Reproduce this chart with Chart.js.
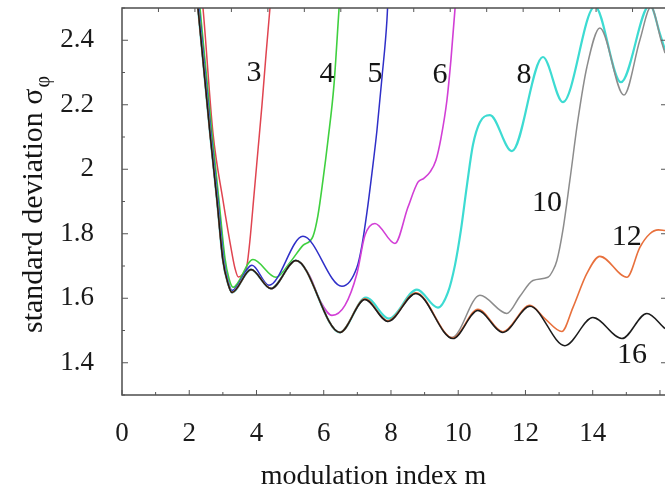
<!DOCTYPE html>
<html>
<head>
<meta charset="utf-8">
<script src="https://cdn.jsdelivr.net/npm/chart.js@4.4.1/dist/chart.umd.min.js"></script>
<style>
  html, body { margin: 0; padding: 0; background: #fff; overflow: hidden; }
  #wrap { width: 665px; height: 485px; }
</style>
</head>
<body>
<div id="wrap"><canvas id="myChart" width="665" height="485"></canvas></div>
<script>
  // modulation index m  /  standard deviation sigma_phi, one pair per curve
  let m16 = [2.21, 2.26, 2.617, 2.825, 3.003, 3.152, 3.271, 3.836, 4.43, 5.174, 6.482, 7.226, 7.91, 8.742, 9.842, 10.586, 11.329, 12.132, 13.173, 14.005, 14.868, 15.611, 16.15];
  let s16 = [2.55, 2.5, 2.112, 1.904, 1.717, 1.646, 1.618, 1.689, 1.630, 1.717, 1.494, 1.596, 1.528, 1.615, 1.475, 1.562, 1.494, 1.575, 1.453, 1.540, 1.475, 1.553, 1.506];

  let m3 = [2.36, 2.409, 2.706, 3.003, 3.271, 3.36, 3.458, 3.628, 3.717, 3.806, 3.925, 4.044, 4.163, 4.282, 4.401, 4.44];
  let s3 = [2.55, 2.5, 2.112, 1.904, 1.739, 1.693, 1.666, 1.680, 1.702, 1.780, 1.919, 2.059, 2.199, 2.354, 2.5, 2.55];

  let m4 = [2.27, 2.319, 2.676, 2.884, 3.063, 3.182, 3.301, 3.895, 4.579, 4.996, 5.382, 5.680, 5.828, 5.977, 6.126, 6.304, 6.453, 6.49];
  let s4 = [2.55, 2.5, 2.112, 1.904, 1.724, 1.661, 1.634, 1.720, 1.665, 1.711, 1.764, 1.792, 1.857, 1.966, 2.090, 2.261, 2.494, 2.55];

  let m5 = [2.24, 2.29, 2.646, 2.855, 3.033, 3.152, 3.271, 3.866, 4.371, 5.382, 6.542, 6.988, 7.137, 7.285, 7.434, 7.583, 7.731, 7.88, 7.92];
  let s5 = [2.55, 2.5, 2.112, 1.904, 1.717, 1.655, 1.624, 1.702, 1.640, 1.792, 1.637, 1.696, 1.764, 1.866, 1.988, 2.121, 2.283, 2.463, 2.55];

  let m6 = [2.21, 2.26, 2.617, 2.825, 3.003, 3.152, 3.271, 3.836, 4.43, 5.174, 5.59, 5.888, 6.244, 6.631, 6.988, 7.226, 7.523, 8.118, 8.504, 8.802, 8.98, 9.159, 9.337, 9.486, 9.664, 9.783, 9.902, 9.94];
  let s6 = [2.55, 2.5, 2.112, 1.904, 1.717, 1.646, 1.618, 1.689, 1.630, 1.717, 1.668, 1.593, 1.547, 1.578, 1.677, 1.795, 1.832, 1.770, 1.882, 1.960, 1.972, 1.991, 2.028, 2.096, 2.214, 2.339, 2.494, 2.55];

  let m8 = [2.21, 2.26, 2.617, 2.825, 3.003, 3.152, 3.271, 3.836, 4.43, 5.174, 6.482, 7.255, 7.94, 8.772, 9.396, 9.694, 9.902, 10.08, 10.259, 10.437, 10.645, 10.943, 11.597, 12.519, 13.113, 14.065, 14.838, 15.70, 16.0, 16.15];
  let s8 = [2.55, 2.5, 2.112, 1.904, 1.717, 1.646, 1.618, 1.689, 1.630, 1.717, 1.494, 1.602, 1.537, 1.627, 1.571, 1.618, 1.702, 1.811, 1.950, 2.075, 2.146, 2.168, 2.056, 2.348, 2.208, 2.505, 2.270, 2.51, 2.42, 2.37];

  let m10 = [2.21, 2.26, 2.617, 2.825, 3.003, 3.152, 3.271, 3.836, 4.43, 5.174, 6.482, 7.226, 7.91, 8.742, 9.813, 10.645, 11.448, 11.835, 12.222, 12.667, 12.816, 12.935, 13.113, 13.321, 13.559, 13.827, 14.213, 14.927, 15.403, 15.73, 16.057, 16.15];
  let s10 = [2.55, 2.5, 2.112, 1.904, 1.717, 1.646, 1.618, 1.689, 1.630, 1.717, 1.494, 1.596, 1.528, 1.615, 1.478, 1.609, 1.553, 1.606, 1.655, 1.665, 1.686, 1.717, 1.811, 1.966, 2.152, 2.317, 2.438, 2.230, 2.401, 2.503, 2.391, 2.36];

  let m12 = [2.21, 2.26, 2.617, 2.825, 3.003, 3.152, 3.271, 3.836, 4.43, 5.174, 6.482, 7.226, 7.91, 8.742, 9.842, 10.586, 11.329, 12.132, 12.578, 13.084, 13.411, 13.827, 14.213, 15.016, 15.403, 15.70, 15.95, 16.15];
  let s12 = [2.55, 2.5, 2.112, 1.904, 1.717, 1.646, 1.618, 1.689, 1.630, 1.717, 1.494, 1.598, 1.530, 1.617, 1.477, 1.566, 1.496, 1.578, 1.537, 1.497, 1.571, 1.677, 1.730, 1.665, 1.758, 1.800, 1.812, 1.810];

  // curve labels written inside the plot
  let labelText = ['3', '4', '5', '6', '8', '10', '12', '16'];
  let labelM = [3.925, 6.096, 7.523, 9.456, 11.954, 12.637, 15.016, 15.165];
  let labelS = [2.298, 2.295, 2.295, 2.292, 2.292, 1.894, 1.789, 1.425];

  // axes
  let xTicks = [0, 2, 4, 6, 8, 10, 12, 14];
  let xMarks = [0, 1, 2, 3, 4, 5, 6, 7, 8, 9, 10, 11, 12, 13, 14, 15, 16];
  let topMarks = [1, 2, 3, 4, 5, 6, 7, 8, 9, 10, 11, 12, 13, 14];
  let yTicks = [1.4, 1.6, 1.8, 2.0, 2.2, 2.4];
  let yTickLabels = ['1.4', '1.6', '1.8', '2', '2.2', '2.4'];
  let yMarks = [1.3, 1.4, 1.5, 1.6, 1.7, 1.8, 1.9, 2.0, 2.1, 2.2, 2.3, 2.4, 2.5];

  const serif = 'Liberation Serif';

  function pts(xs, ys) {
      return xs.map((x, i) => ({ x: x, y: ys[i] }));
  }

  function curve(label, xs, ys, color, width) {
      return {
          label: label,
          data: pts(xs, ys),
          borderColor: color,
          borderWidth: width,
          pointRadius: 0,
          fill: false,
          cubicInterpolationMode: 'monotone',
          clip: 0
      };
  }

  const framePlugin = {
      id: 'frame',
      afterDatasetsDraw(chart) {
          const ctx = chart.ctx;
          const a = chart.chartArea;
          const x = chart.scales.x, y = chart.scales.y, top = chart.scales.x2;
          ctx.save();
          ctx.strokeStyle = '#4d4d4d';
          ctx.lineWidth = 1.5;
          ctx.beginPath();
          ctx.moveTo(a.right + 2, a.top);
          ctx.lineTo(a.left, a.top);
          ctx.lineTo(a.left, a.bottom);
          ctx.lineTo(a.right + 2, a.bottom);
          ctx.stroke();

          ctx.lineWidth = 1;
          ctx.strokeStyle = '#555';
          ctx.beginPath();
          xMarks.forEach(v => {
              const px = x.getPixelForValue(v);
              const len = v % 2 === 0 ? 5 : 3;
              ctx.moveTo(px, a.bottom);
              ctx.lineTo(px, a.bottom - len);
          });
          topMarks.forEach(v => {
              const px = top.getPixelForValue(v);
              ctx.moveTo(px, a.top);
              ctx.lineTo(px, a.top + 4);
          });
          yMarks.forEach(v => {
              const py = y.getPixelForValue(v);
              const major = Math.round(v * 10) % 2 === 0;
              const len = major ? 6 : 3;
              ctx.moveTo(a.left, py);
              ctx.lineTo(a.left + len, py);
              if (major) {
                  ctx.moveTo(a.right, py);
                  ctx.lineTo(a.right - 4, py);
              }
          });
          ctx.stroke();

          // numbers beside the curves
          ctx.fillStyle = '#151515';
          ctx.font = '30px "' + serif + '"';
          ctx.textAlign = 'center';
          ctx.textBaseline = 'middle';
          for (let i = 0; i < labelText.length; i++) {
              ctx.fillText(labelText[i], x.getPixelForValue(labelM[i]), y.getPixelForValue(labelS[i]));
          }

          // x title
          ctx.font = '28px "' + serif + '"';
          ctx.textBaseline = 'alphabetic';
          ctx.fillText('modulation index m', a.left + (a.right - a.left) * 0.463, 484);

          // y title with subscript phi
          const mainFont = '30px "' + serif + '"';
          const subFont = '20px "' + serif + '"';
          const main = 'standard deviation σ';
          ctx.font = subFont;
          const ws = ctx.measureText('φ').width;
          ctx.font = mainFont;
          const wm = ctx.measureText(main).width;
          ctx.translate(42, (a.top + a.bottom) / 2 + 3);
          ctx.rotate(-Math.PI / 2);
          const start = -(wm + ws + 1) / 2;
          ctx.textAlign = 'left';
          ctx.fillText(main, start, 0);
          ctx.font = subFont;
          ctx.fillText('φ', start + wm + 1, 7);
          ctx.restore();
      }
  };

  let ctx = document.getElementById('myChart').getContext('2d');

  let myChart = new Chart(ctx, {
      type: 'line',
      data: {
          datasets: [
              curve('16', m16, s16, '#1c1c1c', 1.5),
              curve('12', m12, s12, '#e8703c', 1.6),
              curve('10', m10, s10, '#8c8c8c', 1.5),
              curve('8', m8, s8, '#3ddbd2', 2.2),
              curve('6', m6, s6, '#d23fd6', 1.6),
              curve('5', m5, s5, '#2f2fc8', 1.5),
              curve('4', m4, s4, '#3fd03f', 1.6),
              curve('3', m3, s3, '#e04450', 1.5)
          ]
      },
      options: {
          responsive: false,
          animation: false,
          layout: { padding: { top: 8, right: 0, left: 0, bottom: 0 } },
          plugins: {
              legend: { display: false },
              tooltip: { enabled: false },
              title: { display: false }
          },
          scales: {
              x: {
                  type: 'linear',
                  position: 'bottom',
                  min: 0,
                  max: 16.15,
                  grid: { display: false },
                  border: { display: false },
                  afterBuildTicks: s => { s.ticks = xTicks.map(v => ({ value: v })); },
                  afterFit: s => { s.height = 90; s.paddingLeft = 0; s.paddingRight = 0; },
                  ticks: {
                      autoSkip: false,
                      maxRotation: 0,
                      padding: 15,
                      color: '#1a1a1a',
                      font: { family: serif, size: 27 },
                      callback: function (value) { return String(value); }
                  }
              },
              x2: {
                  type: 'linear',
                  position: 'top',
                  display: false,
                  min: 0,
                  max: 14.89
              },
              y: {
                  type: 'linear',
                  min: 1.3,
                  max: 2.5,
                  grid: { display: false },
                  border: { display: false },
                  afterBuildTicks: s => { s.ticks = yTicks.map(v => ({ value: v })); },
                  afterFit: s => { s.width = 122; s.paddingTop = 0; s.paddingBottom = 0; },
                  ticks: {
                      autoSkip: false,
                      padding: 20,
                      color: '#1a1a1a',
                      font: { family: serif, size: 27 },
                      callback: function (value, index) { return yTickLabels[index]; }
                  }
              }
          }
      },
      plugins: [framePlugin]
  });
</script>
</body>
</html>
